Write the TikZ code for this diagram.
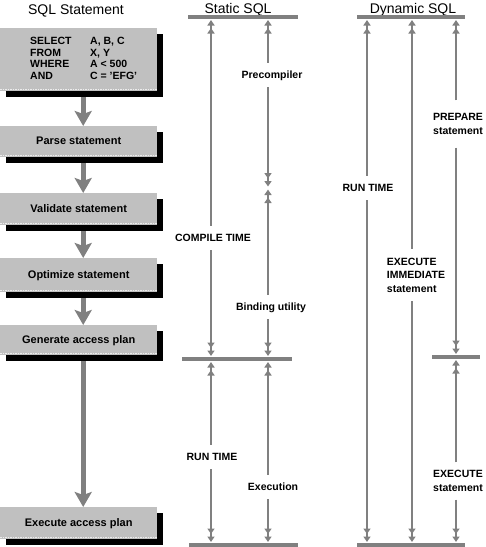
\documentclass[tikz,border=0pt]{standalone}
\usepackage{fontspec}
\setmainfont{Liberation Sans}
\usetikzlibrary{arrows.meta,shadows,calc}
\definecolor{boxgray}{HTML}{C0C0C0}
\definecolor{linegray}{HTML}{808080}
\begin{document}
\begin{tikzpicture}[x=1pt,y=-1pt,
  stepbox/.style={fill=boxgray, draw=none, minimum width=157pt, anchor=north west, inner sep=0pt,
    text height=8pt, text depth=2pt,
    font=\bfseries\fontsize{11}{13}\selectfont,
    drop shadow={shadow xshift=6pt, shadow yshift=-6pt, fill=black, opacity=1},
    path picture={\draw[white!85!gray, densely dotted, line width=1.5pt]
      ([yshift=1.5pt]path picture bounding box.south west) -- ([yshift=1.5pt]path picture bounding box.south east);}},
  bigarrow/.style={draw=linegray, line width=5pt, shorten <=6pt,
    -{Stealth[width=17pt,length=15pt,inset=3pt,fill=linegray]}},
  title/.style={font=\fontsize{14}{16}\selectfont, inner sep=0pt, anchor=base},
  lab/.style={font=\bfseries\fontsize{10.5}{13.5}\selectfont, inner xsep=1pt, inner ysep=7pt,
    text height=8pt, text depth=2pt},
  labm/.style={font=\bfseries\fontsize{10.5}{13.5}\selectfont, inner xsep=1pt, align=#1},
  labm/.default=center,
  rule/.style={draw=linegray, line width=3.5pt},
  span/.style={draw=linegray, line width=2pt},
  tipend/.style={-{Triangle[width=7pt,length=5.5pt,sep=2.5pt]Triangle[width=7pt,length=5.5pt,sep=0pt]}, shorten >=#1},
  tipend/.default=3pt
]
\useasboundingbox (0,0) rectangle (486,547);

% titles
\node[title] (t1) at (76,14) {SQL Statement};
\node[title] (t2) at (238,13) {Static SQL};
\node[title] (t3) at (413,13) {Dynamic SQL};

% left column boxes
\node[stepbox, minimum height=63pt, text height=, text depth=] (b1) at (0,28)
  {\fontsize{10.5}{11.7}\selectfont\renewcommand{\arraystretch}{1}%
   \begin{tabular}{@{\hspace{30pt}}p{60pt}@{}p{67pt}@{}}
   SELECT & A, B, C\\ FROM & X, Y\\ WHERE & A < 500\\ AND & C = 'EFG'
   \end{tabular}};
\node[stepbox, minimum height=31pt] (b2) at (0,126) {Parse statement};
\node[stepbox, minimum height=32pt] (b3) at (0,193) {Validate statement};
\node[stepbox, minimum height=34pt] (b4) at (0,258) {Optimize statement};
\node[stepbox, minimum height=30pt] (b5) at (0,325) {Generate access plan};
\node[stepbox, minimum height=32pt] (b6) at (0,507) {Execute access plan};

\draw[bigarrow] ([xshift=4.5pt]b1.south) -- ([xshift=4.5pt]b2.north);
\draw[bigarrow] ([xshift=4.5pt]b2.south) -- ([xshift=4.5pt]b3.north);
\draw[bigarrow] ([xshift=4.5pt]b3.south) -- ([xshift=4.5pt]b4.north);
\draw[bigarrow] ([xshift=4.5pt]b4.south) -- ([xshift=4.5pt]b5.north);
\draw[bigarrow] ([xshift=4.5pt]b5.south) -- ([xshift=4.5pt]b6.north);

% static SQL rules
\coordinate (stl) at (188,17); \coordinate (str) at (298,17);
\coordinate (sml) at (182,359); \coordinate (smr) at (292,359);
\coordinate (sbl) at (189,545); \coordinate (sbr) at (298,545);
\draw[rule] (stl) -- (str);
\draw[rule] (sml) -- (smr);
\draw[rule] (sbl) -- (sbr);

\coordinate (sA0) at (211,17); \coordinate (sA1) at (211,359); \coordinate (sA2) at (211,545);
\coordinate (sB0) at (268,17); \coordinate (sB1) at (268,188); \coordinate (sB2) at (268,359); \coordinate (sB3) at (268,545);

\node[lab] (compile) at (213,238) {COMPILE TIME};
\node[lab] (precomp) at (272,75) {Precompiler};
\node[lab] (bind) at (271,307) {Binding utility};
\node[lab] (srun) at (212,457) {RUN TIME};
\node[lab] (exec) at (273,487) {Execution};

\draw[span,tipend] (compile.north -| sA0) -- (sA0);
\draw[span,tipend] (compile.south -| sA0) -- (sA1);
\draw[span,tipend] (precomp.north -| sB0) -- (sB0);
\draw[span,tipend=1.5pt] (precomp.south -| sB0) -- (sB1);
\draw[span,tipend=1.5pt] (bind.north -| sB0) -- (sB1);
\draw[span,tipend] (bind.south -| sB0) -- (sB2);
\draw[span,tipend] (srun.north -| sA0) -- (sA1);
\draw[span,tipend] (srun.south -| sA0) -- (sA2);
\draw[span,tipend] (exec.north -| sB0) -- (sB2);
\draw[span,tipend] (exec.south -| sB0) -- (sB3);

% dynamic SQL rules
\coordinate (dtl) at (357,17); \coordinate (dtr) at (465,17);
\coordinate (dml) at (432,357); \coordinate (dmr) at (480,357);
\coordinate (dbl) at (357,545); \coordinate (dbr) at (465,545);
\draw[rule] (dtl) -- (dtr);
\draw[rule] (dml) -- (dmr);
\draw[rule] (dbl) -- (dbr);

\coordinate (dA0) at (367,17); \coordinate (dA1) at (367,545);
\coordinate (dB0) at (412,17); \coordinate (dB1) at (412,545);
\coordinate (dC0) at (456,17); \coordinate (dC1) at (456,357); \coordinate (dC2) at (456,545);

\node[lab] (drun) at (368,188) {RUN TIME};
\node[labm=left, inner ysep=9pt] (eim) at (416,275) {EXECUTE\\IMMEDIATE\\statement};
\node[labm, inner ysep=13pt] (prep) at (458,124) {PREPARE\\statement};
\node[labm, inner ysep=8pt] (dexec) at (458,481) {EXECUTE\\statement};

\draw[span,tipend] (drun.north -| dA0) -- (dA0);
\draw[span,tipend] (drun.south -| dA0) -- (dA1);
\draw[span,tipend] (eim.north -| dB0) -- (dB0);
\draw[span,tipend] (eim.south -| dB0) -- (dB1);
\draw[span,tipend] (prep.north -| dC0) -- (dC0);
\draw[span,tipend] (prep.south -| dC0) -- (dC1);
\draw[span,tipend] (dexec.north -| dC0) -- (dC1);
\draw[span,tipend] (dexec.south -| dC0) -- (dC2);
\end{tikzpicture}
\end{document}
